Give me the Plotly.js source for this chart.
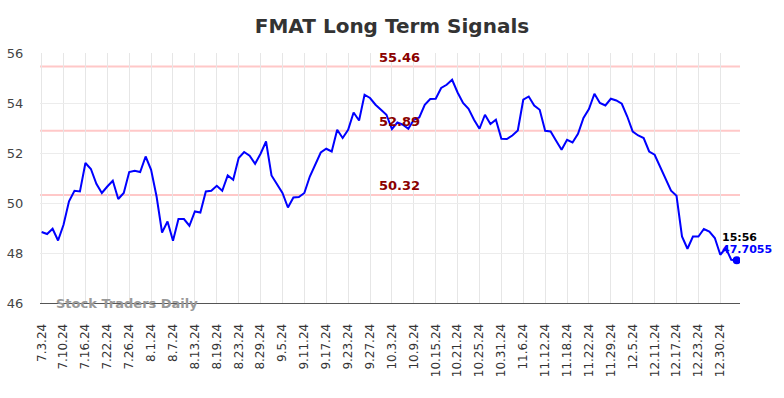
<!DOCTYPE html>
<html>
<head>
<meta charset="utf-8">
<script src="https://cdn.plot.ly/plotly-3.0.1.min.js"></script>
<style>html,body{margin:0;padding:0;background:#fff;}#chart{width:784px;height:398px;}</style>
</head>
<body>
<div id="chart"></div>
<script>
const dates = [
"7.3.24","7.5.24","7.8.24","7.9.24","7.10.24","7.11.24","7.12.24","7.15.24","7.16.24","7.17.24","7.18.24","7.19.24","7.22.24","7.23.24","7.24.24","7.25.24","7.26.24","7.29.24","7.30.24","7.31.24",
"8.1.24","8.2.24","8.5.24","8.6.24","8.7.24","8.8.24","8.9.24","8.12.24","8.13.24","8.14.24","8.15.24","8.16.24","8.19.24","8.20.24","8.21.24","8.22.24","8.23.24","8.26.24","8.27.24","8.28.24","8.29.24","8.30.24",
"9.3.24","9.4.24","9.5.24","9.6.24","9.9.24","9.10.24","9.11.24","9.12.24","9.13.24","9.16.24","9.17.24","9.18.24","9.19.24","9.20.24","9.23.24","9.24.24","9.25.24","9.26.24","9.27.24","9.30.24",
"10.1.24","10.2.24","10.3.24","10.4.24","10.7.24","10.8.24","10.9.24","10.10.24","10.11.24","10.14.24","10.15.24","10.16.24","10.17.24","10.18.24","10.21.24","10.22.24","10.23.24","10.24.24","10.25.24","10.28.24","10.29.24","10.30.24","10.31.24",
"11.1.24","11.4.24","11.5.24","11.6.24","11.7.24","11.8.24","11.11.24","11.12.24","11.13.24","11.14.24","11.15.24","11.18.24","11.19.24","11.20.24","11.21.24","11.22.24","11.25.24","11.26.24","11.27.24","11.29.24",
"12.2.24","12.3.24","12.4.24","12.5.24","12.6.24","12.9.24","12.10.24","12.11.24","12.12.24","12.13.24","12.16.24","12.17.24","12.18.24","12.19.24","12.20.24","12.23.24","12.24.24","12.26.24","12.27.24","12.30.24","12.31.24",
"1.2.25","1.3.25"
];
const prices = [
48.84,48.76,48.97,48.50,49.13,50.07,50.49,50.46,51.60,51.36,50.77,50.40,50.66,50.89,50.16,50.40,51.24,51.29,51.24,51.86,
51.33,50.26,48.82,49.26,48.49,49.36,49.36,49.09,49.66,49.62,50.46,50.49,50.69,50.49,51.10,50.93,51.80,52.04,51.89,51.57,51.97,52.46,
51.10,50.77,50.40,49.82,50.22,50.24,50.40,51.06,51.57,52.02,52.17,52.06,52.93,52.60,52.93,53.62,53.30,54.33,54.20,53.93,
53.73,53.53,52.96,53.22,53.13,52.97,53.33,53.42,53.93,54.16,54.17,54.60,54.73,54.93,54.42,54.00,53.77,53.33,52.97,53.53,53.16,53.33,52.57,
52.56,52.70,52.90,54.13,54.26,53.90,53.73,52.89,52.86,52.49,52.13,52.53,52.42,52.77,53.40,53.76,54.37,54.00,53.90,54.17,54.10,
53.97,53.46,52.86,52.70,52.60,52.06,51.93,51.46,50.93,50.49,50.29,48.66,48.17,48.66,48.66,48.96,48.86,48.60,47.93,48.20,
47.73,47.7055
];
const tickDates = ["7.3.24","7.10.24","7.16.24","7.22.24","7.26.24","8.1.24","8.7.24","8.13.24","8.19.24","8.23.24","8.29.24","9.5.24","9.11.24","9.17.24","9.23.24","9.27.24","10.3.24","10.9.24","10.15.24","10.21.24","10.25.24","10.31.24","11.6.24","11.12.24","11.18.24","11.22.24","11.29.24","12.5.24","12.11.24","12.17.24","12.23.24","12.30.24"];
const signalLevels = [55.46, 52.89, 50.32];
const signalLabels = ["55.46", "52.89", "50.32"];
const lastTime = "15:56";
const lastValue = "47.7055";
const titleText = "FMAT Long Term Signals";
const watermark = "Stock Traders Daily";

const F = '"DejaVu Sans", Verdana, sans-serif';
const n = dates.length;
const xIdx = dates.map((d, i) => i);
const tickIdx = tickDates.map(d => dates.indexOf(d));

const shapes = signalLevels.map(v => ({
  type: 'line', xref: 'paper', x0: 0, x1: 1, yref: 'y', y0: v, y1: v,
  line: {color: 'rgba(255,190,190,0.85)', width: 2}, layer: 'below'
}));

const annotations = signalLevels.map((v, k) => ({
  xref: 'paper', x: 0.513, yref: 'y', y: v, yanchor: 'bottom', xanchor: 'center',
  yshift: 0, text: '<b>' + signalLabels[k] + '</b>', showarrow: false,
  font: {family: F, size: 13, color: '#8b0000'}
}));
annotations.push({
  xref: 'x', x: n - 1, yref: 'y', y: prices[n - 1], xanchor: 'left', yanchor: 'bottom',
  xshift: -17, yshift: 14, text: '<b>' + lastTime + '</b>', showarrow: false,
  font: {family: F, size: 11, color: '#000'}
});
annotations.push({
  xref: 'x', x: n - 1, yref: 'y', y: prices[n - 1], xanchor: 'left', yanchor: 'bottom',
  xshift: -17, yshift: 2, text: '<b>' + lastValue + '</b>', showarrow: false,
  font: {family: F, size: 11, color: '#0000ff'}
});
annotations.push({
  xref: 'paper', x: 0.02, yref: 'y', y: 46, xanchor: 'left', yanchor: 'middle',
  text: '<b>' + watermark + '</b>', showarrow: false,
  font: {family: F, size: 13, color: '#999999'}
});

const traces = [
  {x: xIdx, y: prices, type: 'scatter', mode: 'lines',
   line: {color: '#0000ff', width: 2}, hoverinfo: 'skip'},
  {x: [n - 1], y: [prices[n - 1]], type: 'scatter', mode: 'markers',
   marker: {color: '#0000ff', size: 8}, hoverinfo: 'skip'}
];

const layout = {
  width: 784, height: 398,
  margin: {l: 40, r: 44, t: 53, b: 95},
  paper_bgcolor: '#fff', plot_bgcolor: '#fff',
  showlegend: false,
  title: {text: '<b>' + titleText + '</b>', x: 0.5, xanchor: 'center', y: 0.935, yanchor: 'middle',
          font: {family: F, size: 20, color: '#333'}},
  xaxis: {
    type: 'linear', range: [-0.3, 127.6],
    tickmode: 'array', tickvals: tickIdx, ticktext: tickDates, tickangle: -90,
    tickfont: {family: F, size: 12, color: '#333'},
    showgrid: true, gridcolor: '#e6e6e6', gridwidth: 1,
    zeroline: false, showline: true, linecolor: '#555', linewidth: 1,
    ticks: 'outside', ticklen: 15, tickcolor: 'rgba(0,0,0,0)'
  },
  yaxis: {
    range: [46, 56], tickvals: [46, 48, 50, 52, 54, 56],
    tickfont: {family: F, size: 13, color: '#444'},
    showgrid: true, gridcolor: '#ececec', gridwidth: 1,
    zeroline: false, showline: false,
    ticks: 'outside', ticklen: 13, tickcolor: 'rgba(0,0,0,0)'
  },
  shapes: shapes,
  annotations: annotations
};

Plotly.newPlot('chart', traces, layout, {staticPlot: true, displayModeBar: false});
</script>
</body>
</html>
